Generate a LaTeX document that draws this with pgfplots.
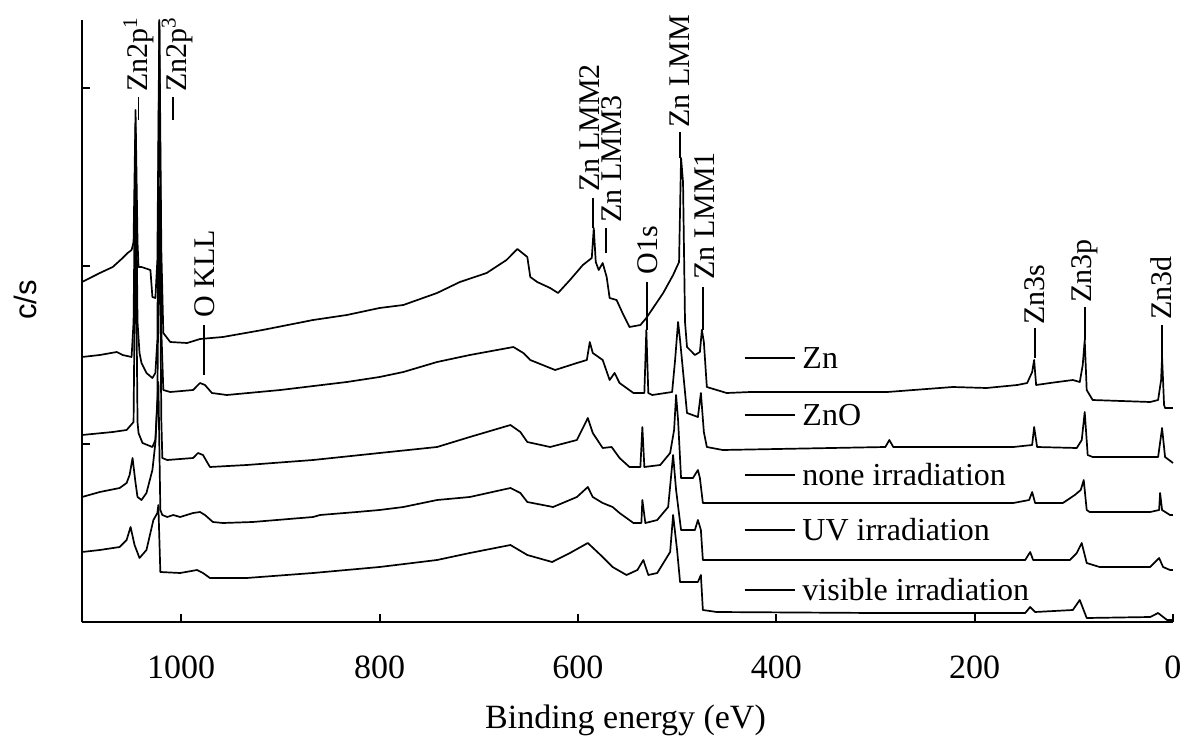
\documentclass[border=0pt]{standalone}
\usepackage{pgfplots}
\pgfplotsset{compat=1.18}
\usepackage{fontspec}
\setmainfont{Liberation Serif}
\newfontfamily\sansf{Liberation Sans}
\begin{document}
\begin{tikzpicture}
\begin{axis}[
  scale only axis, width=545.5pt, height=301pt,
  xmin=0, xmax=1100, ymin=0, ymax=602, x dir=reverse,
  axis x line=bottom, axis y line=left,
  axis line style={-, line width=1pt},
  xtick={0,200,400,600,800,1000}, xticklabels={},
  ytick={178,356,534}, yticklabels={},
  tick align=inside, major tick length=4pt,
  tick style={line width=1pt, black},
  clip=false,
  cycle list={black\\},
  every axis plot/.append style={line width=0.85pt, line join=round},
]
% Zn
\addplot coordinates {(1100,340) (1082,349) (1069,355) (1059,364) (1054,369) (1050,372) (1048,380) (1046,512) (1044,380) (1043,355) (1040,355) (1031,352) (1029,325) (1026,324) (1024,362) (1022,602) (1020,372) (1018,289) (1011,280) (994,279) (981,283) (958,285) (918,292) (867,302) (833,307) (800,314) (776,317) (742,329) (719,340) (692,349) (672,362) (661,373) (651,365) (648,345) (641,340) (628,334) (620,329) (608,342) (595,357) (586,364) (584,394) (582,360) (579,352) (575,359) (571,345) (568,324) (561,322) (555,309) (548,295) (537,297) (531,304) (514,329) (504,347) (498,360) (496,464) (494,440) (492,300) (490,275) (482,267) (477,270) (475,292) (473,280) (470,235) (450,229) (426,230) (376,230) (288,230) (222,235) (188,234) (157,237) (147,239) (142,250) (140,262) (138,237) (124,239) (101,242) (94,240) (91,257) (89,282) (87,232) (81,222) (23,220) (15,222) (12,242) (11,265) (9,217) (8,214) (0,214)};
% ZnO
\addplot coordinates {(1100,265) (1082,267) (1065,270) (1059,267) (1050,265) (1048,300) (1046,495) (1044,300) (1042,269) (1040,259) (1035,249) (1029,244) (1026,249) (1024,282) (1022,600) (1020,292) (1018,232) (1011,230) (988,232) (981,239) (976,237) (969,229) (954,227) (900,232) (833,240) (800,245) (776,250) (742,260) (709,267) (665,275) (655,269) (648,262) (623,252) (601,259) (591,262) (588,280) (585,269) (575,262) (568,242) (563,249) (558,239) (544,229) (533,229) (531,292) (529,229) (525,227) (505,230) (502,262) (499,300) (497,282) (490,209) (479,205) (476,229) (473,190) (470,175) (454,172) (290,175) (286,182) (282,175) (161,175) (142,177) (140,195) (137,175) (97,174) (92,182) (89,210) (86,167) (81,165) (15,165) (11,194) (8,165) (0,159)};
% none irradiation
\addplot coordinates {(1100,187) (1069,190) (1055,192) (1048,200) (1046,409) (1044,200) (1043,189) (1039,179) (1029,175) (1026,182) (1024,222) (1022,435) (1020,202) (1019,164) (1014,162) (988,164) (983,169) (978,167) (971,155) (934,157) (867,162) (800,169) (742,175) (709,185) (668,197) (658,190) (651,180) (628,175) (601,182) (590,204) (585,189) (575,174) (566,175) (558,164) (548,155) (537,155) (535,195) (533,155) (517,157) (507,169) (503,192) (501,227) (499,202) (496,144) (484,144) (479,152) (477,144) (474,119) (457,119) (300,119) (161,119) (145,122) (142,130) (139,119) (111,119) (99,127) (93,132) (90,142) (87,112) (84,110) (23,110) (14,112) (13,129) (11,112) (3,107) (0,107)};
% UV irradiation
\addplot coordinates {(1100,125) (1082,130) (1062,134) (1055,139) (1052,147) (1049,164) (1046,139) (1044,125) (1040,122) (1035,129) (1029,152) (1026,179) (1023,240) (1021,112) (1019,107) (1014,105) (1008,107) (1001,105) (988,109) (981,110) (976,107) (968,100) (958,99) (928,100) (867,105) (860,107) (823,110) (800,112) (776,115) (742,122) (709,125) (668,134) (658,129) (651,120) (625,115) (601,125) (590,135) (585,125) (575,119) (565,115) (558,109) (544,99) (536,99) (535,122) (532,99) (520,102) (509,115) (504,167) (501,132) (496,92) (482,92) (479,102) (476,92) (474,62) (460,62) (300,62) (149,62) (144,70) (141,62) (104,62) (97,69) (92,79) (87,59) (74,55) (23,55) (14,64) (10,55) (3,52) (0,52)};
% visible irradiation
\addplot coordinates {(1100,70) (1082,72) (1062,75) (1055,82) (1051,95) (1047,77) (1042,64) (1035,72) (1028,102) (1024,109) (1023,117) (1021,50) (1001,49) (984,52) (978,49) (971,44) (934,44) (867,49) (800,55) (742,62) (709,69) (668,77) (651,67) (626,60) (608,69) (590,79) (575,65) (565,55) (551,47) (540,52) (534,62) (529,47) (520,49) (507,70) (504,107) (500,72) (497,40) (479,40) (476,47) (474,12) (460,10) (300,9) (149,9) (144,15) (139,10) (101,12) (94,22) (87,4) (23,5) (15,9) (6,2) (0,2)};

% tick labels
\tikzset{tl/.style={anchor=base, inner sep=0pt, font=\fontsize{17}{20}\selectfont}}
\foreach \v in {0,200,400,600,800,1000} {
  \edef\temp{\noexpand\node[tl] at (axis cs:\v,0) [yshift=-28pt] {\v};}
  \temp
}

% peak labels
\tikzset{pk/.style={rotate=90, anchor=west, inner sep=0pt, font=\fontsize{15}{18}\selectfont}}
\draw[line width=0.85pt] (axis cs:1043,502) -- (axis cs:1043,525);
\node[pk] at (axis cs:1043,530) {Zn2p\textsuperscript{1}};
\draw[line width=0.85pt] (axis cs:1008,502) -- (axis cs:1008,525);
\node[pk] at (axis cs:1004,530) {Zn2p\textsuperscript{3}};
\draw[line width=0.85pt] (axis cs:977,247) -- (axis cs:977,297);
\node[pk] at (axis cs:976,304) {O KLL};
\draw[line width=0.85pt] (axis cs:585,394) -- (axis cs:585,424);
\node[pk] at (axis cs:588,430) {Zn LMM2};
\draw[line width=0.85pt] (axis cs:572,369) -- (axis cs:572,394);
\node[pk] at (axis cs:566,399) {Zn LMM3};
\draw[line width=0.85pt] (axis cs:530,292) -- (axis cs:530,340);
\node[pk] at (axis cs:530,347) {O1s};
\draw[line width=0.85pt] (axis cs:497,464) -- (axis cs:497,490);
\node[pk] at (axis cs:497,494) {Zn LMM};
\draw[line width=0.85pt] (axis cs:474,292) -- (axis cs:474,335);
\node[pk] at (axis cs:472,342) {Zn LMM1};
\draw[line width=0.85pt] (axis cs:139,264) -- (axis cs:139,294);
\node[pk] at (axis cs:139,297) {Zn3s};
\draw[line width=0.85pt] (axis cs:89,282) -- (axis cs:89,315);
\node[pk] at (axis cs:89,319) {Zn3p};
\draw[line width=0.85pt] (axis cs:11,265) -- (axis cs:11,297);
\node[pk] at (axis cs:12,302) {Zn3d};

% legend
\tikzset{lg/.style={anchor=west, inner sep=0pt, font=\fontsize{16}{19}\selectfont}}
\draw[line width=0.85pt] (axis cs:432,264) -- (axis cs:381,264);
\node[lg] at (axis cs:374,264) {Zn};
\draw[line width=0.85pt] (axis cs:432,207) -- (axis cs:381,207);
\node[lg] at (axis cs:374,207) {ZnO};
\draw[line width=0.85pt] (axis cs:432,147) -- (axis cs:381,147);
\node[lg] at (axis cs:374,147) {none irradiation};
\draw[line width=0.85pt] (axis cs:432,92) -- (axis cs:381,92);
\node[lg] at (axis cs:374,92) {UV irradiation};
\draw[line width=0.85pt] (axis cs:432,32) -- (axis cs:381,32);
\node[lg] at (axis cs:374,32) {visible irradiation};

% axis labels
\node[anchor=base, inner sep=0pt, font=\fontsize{17}{20}\selectfont] at (axis cs:552,0) [yshift=-53pt] {Binding energy (eV)};
\node[xshift=-28.5pt, rotate=90, inner sep=0pt, font=\sansf\fontsize{15.5}{18}\selectfont] at (axis cs:1100,322) {c/s};

% fixed frame
\path (rel axis cs:0,0) ++(-41pt,-61.5pt) coordinate (bl);
\path (rel axis cs:1,1) ++(13.5pt,10pt) coordinate (tr);
\end{axis}
\path (bl) rectangle (tr);
\end{tikzpicture}
\end{document}
